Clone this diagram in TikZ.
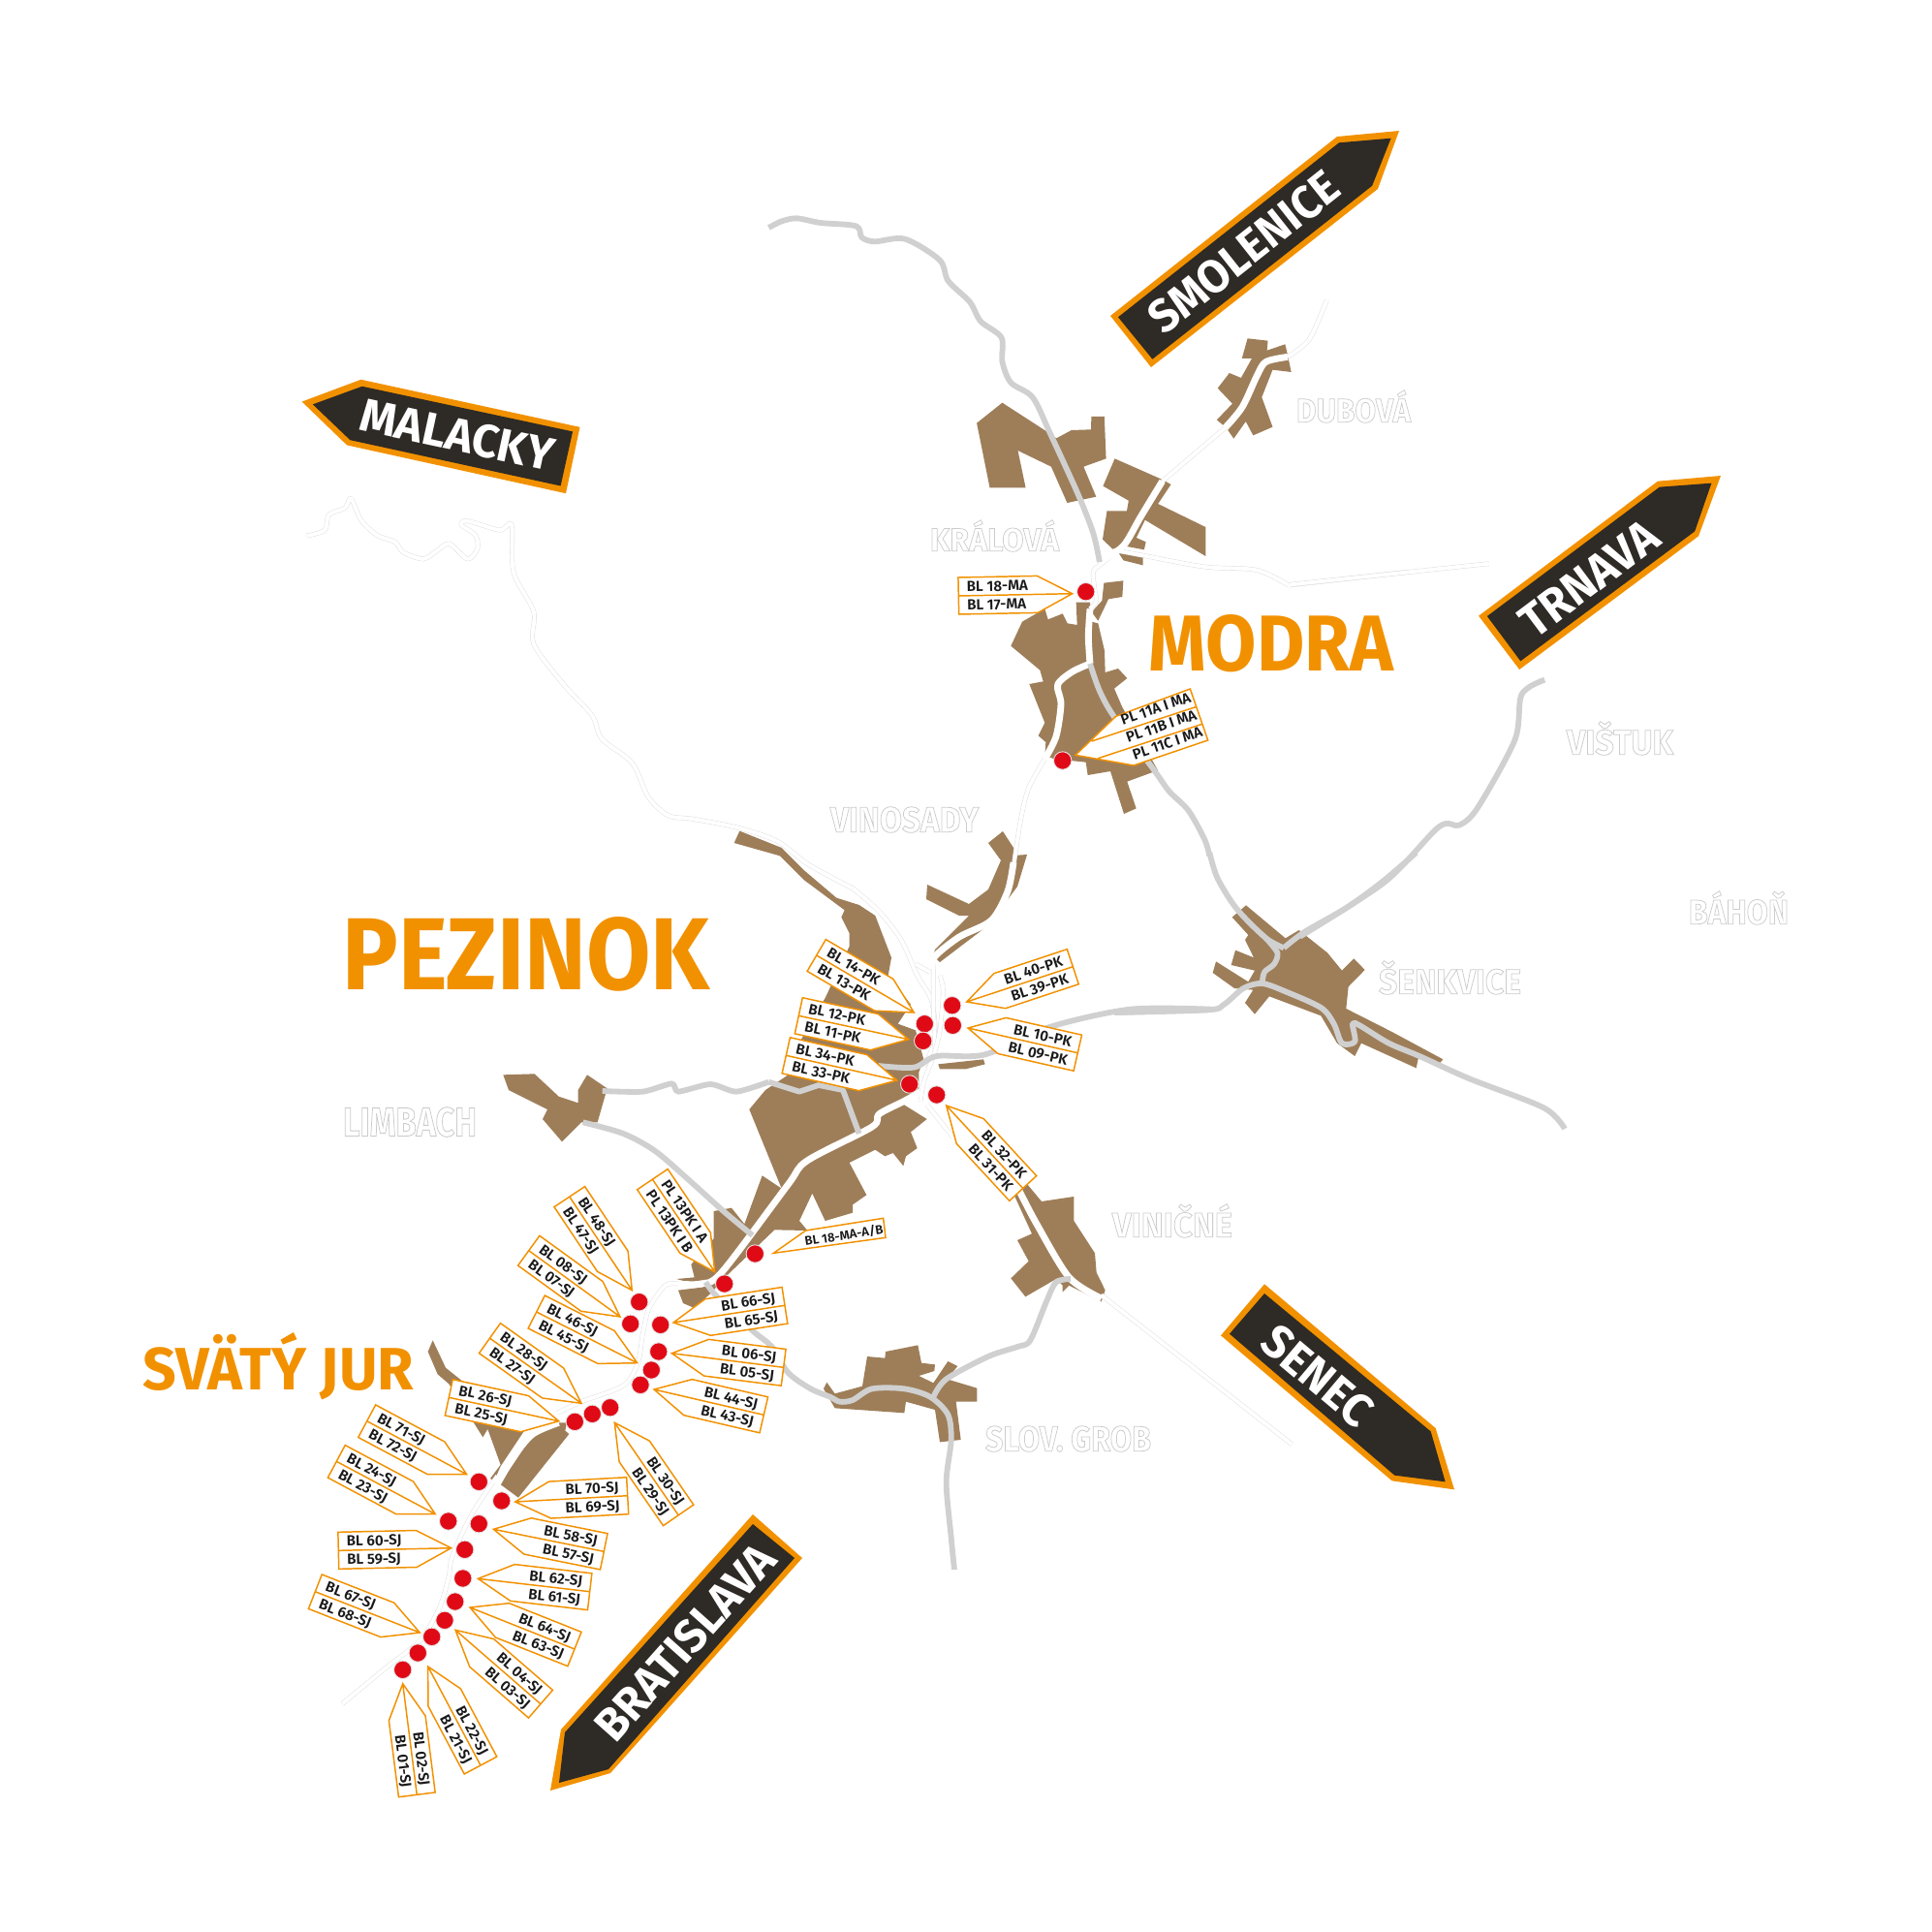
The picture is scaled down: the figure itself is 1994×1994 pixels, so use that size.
\documentclass[tikz,border=0pt]{standalone}
\usepackage{graphicx}
\usepackage{fontspec}
\setmainfont{Fira Sans}
\newfontfamily\lf{Fira Sans SemiBold}
\definecolor{org}{HTML}{F29100}
\definecolor{drk}{HTML}{2E2A26}
\definecolor{twn}{HTML}{9E7E59}
\definecolor{redd}{HTML}{E00A16}
\definecolor{gry}{HTML}{D0D0D0}
\tikzset{
 z1/.style={shift={(950,500)},scale=0.33333},
 z2/.style={shift={(750,950)},scale=0.33333},
 z3/.style={shift={(520,1220)},scale=0.33333},
 z4/.style={shift={(300,1450)},scale=0.33333},
 z5/.style={shift={(780,120)},xscale=0.4464,yscale=0.33333},
 z6/.style={shift={(1200,470)},xscale=0.3827,yscale=0.33333},
 z7/.style={shift={(1150,880)},scale=0.33333},
 z8/.style={shift={(1050,1250)},scale=0.33333},
 z9/.style={shift={(300,370)},xscale=0.4146,yscale=0.3507},
 z10/.style={shift={(500,830)},scale=0.33333},
 z11/.style={shift={(130,1340)},scale=0.33333},
 town/.style={fill=twn},
 groad/.style={draw=gry,line width=1.65pt,line join=round},
 wroad/.style={draw=white,line width=1.95pt,line join=round},
 troad/.style={draw=black!14,line width=0.12pt,double=white,double distance=1.1pt,line join=round},
 labline/.style={draw=org,line width=0.42pt,line join=miter},
 labtext/.style={transform shape,inner sep=0pt,text=black!90,font=\lf\fontsize{4.3}{5}\selectfont,text height=3pt,text depth=0pt},
 dot/.style={fill=redd,draw=black!10,line width=0.25pt},
}
\newcommand\lab[6]{%
 \pgfmathsetmacro\la{atan2(-(#4-#2),#3-#1)}%
 \pgfmathsetmacro\lL{veclen(#3-#1,#4-#2)}%
 \pgfmathsetmacro\lk{cos(\la)>=0?1:-1}%
 \pgfmathsetmacro\lr{\lk>0?\la:\la+180}%
 \ifdim\lk pt>0pt \def\lan{east}\else\def\lan{west}\fi
 \begin{scope}[shift={(#1,#2)},rotate=\lr]
 \draw[labline,fill=white] (0,0)--(\lk*36,-19)--(\lk*\lL,-19)--(\lk*\lL,19)--(\lk*36,19)--cycle (0,0)--(\lk*\lL,0);
 \node[labtext,anchor=\lan] (#5) at (\lk*\lL-\lk*8,-9.5) {#5};
 \node[labtext,anchor=\lan] (#6) at (\lk*\lL-\lk*8,9.5) {#6};
 \end{scope}}
% cx cy width height angle style text
\newcommand\bigt[7]{\node[inner sep=0pt,rotate=#5,text=#6] (#7) at (#1,#2) {\resizebox{#3 cm}{#4 cm}{\bfseries #7}};}
\newcommand\outl[7]{\node[inner sep=0pt] (#7) at (#1,#2) {\resizebox{#3 cm}{#4 cm}{\special{pdf:code q 2 Tr 0.22 w 0.8 0.8 0.8 RG 1 1 1 rg}\bfseries #7\special{pdf:code Q}}};}
\begin{document}
\begin{tikzpicture}[x=0.01cm,y=-0.01cm]
\useasboundingbox (0,0) rectangle (1994,1994);
\fill[white] (0,0) rectangle (1994,1994);
% ---- towns
\begin{scope}[z5]
\fill[town] plot coordinates {(570,887)(668,972)(695,997)(730,972)(775,970)(776,930)(806,930)(810,1060)(758,1085)(787,1178)(720,1197)(683,1085)(606,1035)(624,1150)(541,1150)(511,950)} -- cycle;
\fill[town] plot coordinates {(830,1060)(940,1125)(960,1140)(930,1200)(1040,1272)(1040,1362)(900,1250)(880,1305)(902,1318)(898,1342)(850,1330)(825,1340)(802,1310)(812,1222)(858,1222)(862,1190)(803,1145)} -- cycle;
\fill[town] plot coordinates {(838,1350)(895,1365)(895,1390)(850,1375)} -- cycle;
\fill[town] plot coordinates {(1137,688)(1184,695)(1182,725)(1224,706)(1230,740)(1238,792)(1195,785)(1170,870)(1195,962)(1150,988)(1133,945)(1105,998)(1088,965)(1066,940)(1102,890)(1068,842)(1095,795)(1122,810)(1147,750)(1124,750)} -- cycle;
\end{scope}
\begin{scope}[z1]
\fill[town] plot coordinates {(385,385)(395,418)(440,400)(455,430)(485,435)(482,365)(525,365)(530,425)(550,430)(570,515)(572,582)(612,570)(640,600)(600,632)(625,690)(735,885)(640,920)(668,1003)(630,1020)(588,888)(518,900)(512,860)(415,850)(385,840)(388,798)(365,778)(385,738)(337,618)(380,610)(370,575)(280,500)(315,425)} -- cycle;
\fill[town] plot coordinates {(568,305)(628,298)(625,348)(582,355)(550,422)(530,395)(562,360)} -- cycle;
\end{scope}
\fill[town] plot coordinates {(957,913)(1000,933)(1020,918)(1033,888)(1020,870)(1035,858)(1048,878)(1045,883)(1060,882)(1050,915)(1020,955)(970,993)(963,987)(965,980)(1000,945)(990,945)(956,928)} -- cycle;
\begin{scope}[z10]
\fill[town] plot coordinates {(790,83)(920,135)(990,205)(1090,290)(1160,312)(1210,345)(1260,475)(1250,530)(1320,620)(1280,680)(1335,700)(1360,790)(1345,830)(1345,880)(1290,925)(1370,975)(1320,1015)(1340,1065)(1305,1090)(1297,1120)(1265,1080)(1240,1090)(1210,1070)(1130,1110)(1183,1210)(1140,1240)(1140,1265)(1055,1290)(1015,1205)(975,1290)(1000,1320)(898,1318)(750,1460)(700,1515)(650,1560)(615,1545)(600,1505)(680,1495)(595,1470)(650,1465)(640,1425)(710,1345)(710,1260)(765,1250)(805,1300)(860,1150)(920,1190)(820,945)(870,885)(945,835)(925,825)(1055,600)(1130,440)(1130,400)(1105,350)(1115,328)(990,235)(915,160)(773,120)} -- cycle;
\fill[town] plot coordinates {(58,838)(155,835)(230,905)(290,925)(290,885)(318,838)(380,880)(350,985)(300,985)(240,1045)(180,975)(195,945)(75,885)} -- cycle;
\end{scope}
\begin{scope}[z2]
\fill[town] plot coordinates {(655,445)(795,430)(800,445)(740,460)(660,460)} -- cycle;
\fill[town] plot coordinates {(925,810)(975,870)(1075,855)(1075,930)(1140,1030)(1145,1090)(1172,1145)(1160,1180)(1060,1130)(1040,1150)(1040,1130)(1020,1110)(925,1165)(880,1108)(935,1055)(900,990)(945,970)(890,850)} -- cycle;
\end{scope}
\begin{scope}[z3]
\fill[town] plot coordinates {(990,640)(1000,620)(1025,655)(1110,632)(1125,540)(1180,545)(1182,525)(1282,505)(1293,560)(1335,565)(1333,585)(1285,600)(1330,622)(1375,555)(1405,570)(1372,610)(1465,638)(1465,680)(1400,680)(1415,798)(1350,805)(1335,705)(1245,680)(1240,715)(1025,700)} -- cycle;
\end{scope}
\begin{scope}[z7]
\fill[town] plot coordinates {(365,200)(415,255)(405,270)(432,325)(375,302)(362,348)(435,365)(415,400)(315,337)(305,372)(372,420)(430,425)(405,465)(435,500)(480,445)(640,505)(690,590)(745,630)(765,590)(935,667)(943,630)(1005,655)(1018,640)(860,555)(718,483)(725,415)(776,363)(742,328)(705,365)(660,310)(572,240)(530,265)(408,163)} -- cycle;
\end{scope}
\begin{scope}[z11]
\fill[town] plot coordinates {(950,130)(990,215)(1040,255)(1240,400)(1160,520)(1140,565)(1128,558)(1160,515)(1120,405)(1105,430)(1080,390)(1000,265)(965,235)(935,165)} -- cycle;
\fill[town] plot coordinates {(1300,385)(1365,385)(1360,410)(1372,420)(1215,617)(1158,575)(1255,430)} -- cycle;
\end{scope}
% ---- thin white roads
\begin{scope}[z9]
\draw[troad] plot[smooth,tension=0.5] coordinates {(40,522)(85,505)(95,460)(135,440)(150,412)(175,475)(215,520)(260,540)(280,570)(330,590)(365,565)(395,545)(440,590)(465,560)(460,520)(425,490)(440,478)(520,505)(550,490)(555,630)(605,745)(605,840)(680,960)(750,1050)(775,1120)(850,1190)(890,1290)(940,1345)(1000,1355)(1110,1380)(1210,1420)(1290,1490)(1400,1560)};
\end{scope}
\begin{scope}[z10]
\draw[troad] plot[smooth,tension=0.5] coordinates {(1140,260)(1220,330)(1290,420)(1340,530)(1385,610)(1395,730)(1360,810)};
\end{scope}
\begin{scope}[z2]
\draw[troad] plot[smooth,tension=0.5] coordinates {(640,110)(640,260)(645,400)};
\draw[troad] plot[smooth,tension=0.5] coordinates {(660,170)(670,220)(660,340)(640,420)(610,500)(600,560)};
\draw[troad] (585,135)--(630,160);
\draw[troad] (620,570)--(700,670);
\end{scope}
\begin{scope}[z5]
\draw[troad] (940,1130)--(1085,965);
\draw[troad] plot[smooth,tension=0.5] coordinates {(1230,745)(1280,690)(1320,570)};
\end{scope}
\begin{scope}[z1]
\draw[troad] plot[smooth,tension=0.5] coordinates {(610,205)(555,250)(535,270)(540,330)(545,360)(525,385)};
\draw[troad] plot[smooth,tension=0.5] coordinates {(385,850)(335,940)(310,1040)(290,1170)};
\draw[troad] plot[smooth,tension=0.5] coordinates {(610,205)(690,220)(880,255)(1040,265)(1140,312)};
\draw[troad] (1140,312)--(1500,272);
\end{scope}
\begin{scope}[z6]
\draw[troad] (345,400)--(880,335);
\end{scope}
\begin{scope}[z8]
\draw[troad] (260,260)--(850,722);
\end{scope}
\begin{scope}[z3]
\draw[troad] plot[smooth,tension=0.5] coordinates {(540,315)(500,320)(450,390)(430,470)(415,560)(370,630)(240,680)(165,715)};
\end{scope}
\begin{scope}[z4]
\draw[troad] plot[smooth,tension=0.5] coordinates {(640,220)(560,340)(500,470)(490,530)(460,630)(400,730)(300,810)(160,925)};
\end{scope}
% ---- thick white roads
\begin{scope}[z1]
\draw[wroad] plot[smooth,tension=0.5] coordinates {(525,385)(520,470)(525,555)};
\draw[wroad] plot[smooth,tension=0.5] coordinates {(525,555)(470,580)(425,620)(435,680)(420,780)(385,850)};
\end{scope}
\begin{scope}[z5]
\draw[wroad] plot[smooth,tension=0.5] coordinates {(800,1375)(850,1330)(890,1240)(940,1130)};
\draw[wroad] plot[smooth,tension=0.5] coordinates {(1085,965)(1125,900)(1160,800)(1180,760)(1230,745)};
\end{scope}
\draw[wroad] plot[smooth,tension=0.5] coordinates {(1046,890)(1040,920)(1023,950)(990,967)(965,987)(962,1000)};
\draw[wroad] plot[smooth,tension=0.5] coordinates {(950,1127)(932,1137)(907,1150)(900,1163)(833,1198)(813,1223)(745,1313)(723,1325)(700,1325)};
\begin{scope}[z2]
\draw[wroad] plot[smooth,tension=0.5] coordinates {(905,835)(960,940)(1060,1105)(1160,1170)};
\end{scope}
\begin{scope}[z11]
\draw[wroad] plot[smooth,tension=0.5] coordinates {(1150,575)(1200,490)(1260,420)(1340,385)};
\end{scope}
% ---- grey roads
\begin{scope}[z5]
\draw[groad] plot[smooth,tension=0.5] coordinates {(30,345)(60,325)(95,316)(150,330)(232,340)(245,375)(275,388)(345,380)(425,445)(445,510)(495,575)(520,635)(568,685)(570,760)(590,825)(640,870)(680,980)(745,1170)(780,1290)(795,1380)};
\end{scope}
\begin{scope}[z1]
\draw[groad] plot[smooth,tension=0.5] coordinates {(525,555)(555,640)(600,720)(720,880)(770,950)(830,1010)(880,1100)(895,1150)};
\end{scope}
\begin{scope}[z7]
\draw[groad] plot[smooth,tension=0.5] coordinates {(295,0)(320,80)(380,175)(470,265)(525,295)};
\draw[groad] plot[smooth,tension=0.5] coordinates {(525,295)(590,245)(720,170)(830,90)(935,0)};
\draw[groad] plot[smooth,tension=0.5] coordinates {(470,265)(505,310)(495,345)(465,370)(458,405)};
\draw[groad] plot[smooth,tension=0.5] coordinates {(0,495)(290,487)(340,470)(400,420)(458,405)(530,430)(640,480)(680,530)(705,590)(745,585)(738,530)(760,535)(850,590)(945,630)(1100,700)(1330,790)(1395,855)};
\end{scope}
\begin{scope}[z6]
\draw[groad] plot[smooth,tension=0.5] coordinates {(370,1490)(600,1320)(745,1150)(800,1145)(850,1090)(950,880)(968,740)(1030,695)};
\end{scope}
\begin{scope}[z2]
\draw[groad] plot[smooth,tension=0.5] coordinates {(470,450)(580,455)(650,420)(800,415)(1000,330)(1250,275)(1500,275)};
\end{scope}
\draw[groad] (1250,1042)--(1150,1045);
\begin{scope}[z10]
\draw[groad] plot[smooth,tension=0.4] coordinates {(365,888)(490,890)(580,865)(600,890)(700,867)(780,890)(880,860)};
\draw[groad] (880,860)--(975,890)--(1035,870)--(1110,885)--(1160,1020);
\draw[groad] plot[smooth,tension=0.5] coordinates {(305,985)(430,1020)(530,1075)(640,1170)(740,1260)(830,1335)};
\end{scope}
\begin{scope}[z3]
\draw[groad] plot[smooth,tension=0.5] coordinates {(625,310)(660,355)(770,460)(830,510)(880,590)(950,640)(1010,665)(1040,680)(1080,675)(1140,640)(1240,640)(1320,665)(1375,720)(1385,800)(1370,930)(1385,1100)(1395,1200)};
\end{scope}
\draw[groad] plot[smooth,tension=0.5] coordinates {(963.3,1441.7)(976.7,1423.3)(1020,1400)(1050,1390)(1063.3,1383.3)(1080,1343.3)(1090,1323.3)(1105,1320)};
% ---- red dots
\foreach \p in {(1120.7,610.7),(1096.7,785),(982.7,1037.7),(954.3,1056.7),(983.3,1058.3),(952.7,1074.3),(938.7,1119),(966.7,1130),(779.3,1294),(747.7,1325),(659.7,1343.7),(650.7,1366.3),(681.7,1367.3),(679.7,1395),(672.3,1414),(661,1429.3),(629.7,1452.7),(611.3,1459.3),(593.3,1467.3),(494.3,1529.3),(517.7,1549),(462.7,1570),(494.3,1572.7),(479.7,1599.3),(477.7,1629),(469.7,1653),(459,1672.3),(445.7,1689.3),(431.3,1706),(415.7,1723.3)}
 \filldraw[dot] \p circle[radius=9.2];
% ---- labels
\lab{1106.7}{612.7}{989.3}{615}{BL 18-MA}{BL 17-MA}
\lab{943.3}{1045}{842.7}{986}{BL 14-PK}{BL 13-PK}
\lab{937.7}{1072.7}{824.3}{1048.3}{BL 12-PK}{BL 11-PK}
\lab{925.7}{1115}{811.3}{1089.3}{BL 34-PK}{BL 33-PK}
\lab{997.7}{1034}{1107.3}{997.7}{BL 40-PK}{BL 39-PK}
\lab{999}{1061}{1112.3}{1086.7}{BL 10-PK}{BL 09-PK}
\lab{976.7}{1141}{1056}{1226.7}{BL 32-PK}{BL 31-PK}
\lab{652.3}{1331.7}{587.7}{1235}{BL 48-SJ}{BL 47-SJ}
\lab{737.7}{1312.7}{673.3}{1217}{PL 13PK I A}{PL 13PK I B}
\lab{640}{1359}{545.7}{1290.7}{BL 08-SJ}{BL 07-SJ}
\lab{657.7}{1406.7}{553.7}{1354}{BL 46-SJ}{BL 45-SJ}
\lab{600}{1448.3}{505.3}{1381}{BL 28-SJ}{BL 27-SJ}
\lab{576.7}{1466.7}{463.3}{1442.3}{BL 26-SJ}{BL 25-SJ}
\lab{695}{1365}{810}{1347.3}{BL 66-SJ}{BL 65-SJ}
\lab{693.3}{1396.7}{808.7}{1411.3}{BL 06-SJ}{BL 05-SJ}
\lab{675}{1434}{788.3}{1460.3}{BL 44-SJ}{BL 43-SJ}
\lab{634.3}{1468.3}{700.3}{1564}{BL 30-SJ}{BL 29-SJ}
\lab{531.7}{1550}{647.7}{1543.7}{BL 70-SJ}{BL 69-SJ}
\lab{509.3}{1578.3}{623.3}{1601.3}{BL 58-SJ}{BL 57-SJ}
\lab{481.7}{1521.7}{378.7}{1466.7}{BL 71-SJ}{BL 72-SJ}
\lab{449.3}{1562.7}{347.3}{1508.3}{BL 24-SJ}{BL 23-SJ}
\lab{465.7}{1597.7}{349.3}{1600.3}{BL 60-SJ}{BL 59-SJ}
\lab{493.3}{1629.3}{608.7}{1642.7}{BL 62-SJ}{BL 61-SJ}
\lab{485}{1659}{593}{1702}{BL 64-SJ}{BL 63-SJ}
\lab{433.3}{1685}{325.3}{1642.7}{BL 67-SJ}{BL 68-SJ}
\lab{470}{1682.3}{558}{1758.7}{BL 04-SJ}{BL 03-SJ}
\lab{441.7}{1720}{496}{1822}{BL 22-SJ}{BL 21-SJ}
\lab{415.7}{1737.7}{430.3}{1852.3}{BL 02-SJ}{BL 01-SJ}
\begin{scope}[z1]
\draw[labline,fill=white] (480,838)--(605,718)--(835,633)--(890,792)--(660,870)--cycle (530,795)--(855,688) (550,848)--(872,742);
\end{scope}
\node[labtext,anchor=east,rotate=19] (PL 11A I MA) at (1229,719) {PL 11A I MA};
\node[labtext,anchor=east,rotate=19] (PL 11B I MA) at (1235,737) {PL 11B I MA};
\node[labtext,anchor=east,rotate=19] (PL 11C I MA) at (1241,754.5) {PL 11C I MA};
\begin{scope}[z2]
\draw[labline,fill=white] (145,1030)--(245,960)--(485,922)--(492,982)--cycle;
\end{scope}
\node[labtext,rotate=9,font=\lf\fontsize{3.7}{4}\selectfont,text height=2.6pt] (BL 18-MA-A/B) at (871,1275) {BL 18-MA-A/B};
% ---- signs
\fill[org] (1444,135)--(1380,141)--(1146,326)--(1188,379)--(1422,195)--cycle;
\fill[drk] (1435.6,142.7)--(1382,147.3)--(1154,327.3)--(1189.4,370.7)--(1416.2,191.7)--cycle;
\begin{scope}[z6]
\fill[org] (1505,63)--(1335,80)--(852,497)--(962,663)--(1445,250)--cycle;
\fill[drk] (1480,86)--(1340,98)--(875,498)--(965,637)--(1435,235)--cycle;
\end{scope}
\begin{scope}[z9]
\fill[org] (28,127)--(175,62)--(720,202)--(685,397)--(140,255)--cycle;
\fill[drk] (55,135)--(178,82)--(702,215)--(672,375)--(148,240)--cycle;
\end{scope}
\begin{scope}[z8]
\fill[org] (765,226)--(1295,672)--(1353,862)--(1160,835)--(630,385)--cycle;
\fill[drk] (765,255)--(1280,682)--(1325,838)--(1168,818)--(657,380)--cycle;
\end{scope}
\fill[org] (777,1563)--(828,1608)--(630,1830)--(568,1848)--(579,1785)--cycle;
\fill[drk] (777,1573)--(820,1608)--(628,1826)--(577,1840)--(583,1788)--cycle;
\bigt{1284}{260}{2.36}{0.34}{38.4}{white}{SMOLENICE}
\bigt{1640}{597}{1.65}{0.34}{36.9}{white}{TRNAVA}
\bigt{472}{449}{2.03}{0.34}{-12.2}{white}{MALACKY}
\bigt{1360}{1420}{1.33}{0.34}{-40.1}{white}{SENEC}
\bigt{707}{1695}{2.53}{0.34}{48.3}{white}{BRATISLAVA}
\bigt{1312}{664}{2.52}{0.58}{0}{org}{MODRA}
\bigt{543}{984.5}{3.79}{0.75}{0}{org}{PEZINOK}
\bigt{287.5}{1410}{2.79}{0.59}{0}{org}{SVÄTÝ JUR}
\outl{1026.5}{553}{1.33}{0.32}{}{}{KRÁLOVÁ}
\outl{1397}{419.5}{1.18}{0.33}{}{}{DUBOVÁ}
\outl{933.5}{846}{1.53}{0.26}{}{}{VINOSADY}
\outl{1672}{762}{1.10}{0.34}{}{}{VIŠTUK}
\outl{1794.5}{937}{1.03}{0.34}{}{}{BÁHOŇ}
\outl{1496.5}{1009}{1.47}{0.34}{}{}{ŠENKVICE}
\outl{1210}{1260}{1.24}{0.34}{}{}{VINIČNÉ}
\outl{423}{1158}{1.38}{0.30}{}{}{LIMBACH}
\outl{1102.5}{1485}{1.71}{0.26}{}{}{SLOV. GROB}
\end{tikzpicture}
\end{document}
